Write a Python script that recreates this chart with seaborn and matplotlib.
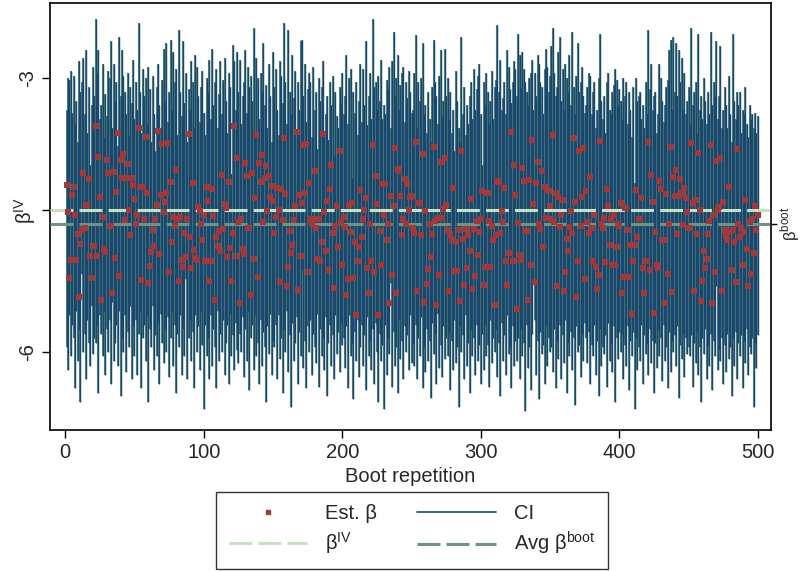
import numpy as np
import pandas as pd
import seaborn as sns
import matplotlib.pyplot as plt
from matplotlib.lines import Line2D

# bootstrap estimates, one per repetition
est_beta = [
    -4.17, -4.47, -5.19, -4.99, -4.28, -4.19, -4.50, -4.99, -4.71, -5.40, -4.82, -4.67, -4.04, -4.64, -4.39, -4.39, -4.11, -4.95, -5.19, -4.84, -4.84, -3.53, -4.95, -3.87, -4.30,
    -5.43, -4.52, -4.87, -4.91, -3.90, -4.04, -4.62, -4.62, -5.35, -4.03, -4.97, -4.25, -3.60, -5.17, -3.90, -4.10, -3.83, -4.56, -4.10, -3.94, -4.45, -4.72, -4.10, -4.17, -4.33,
    -4.60, -4.50, -3.55, -4.19, -5.21, -4.19, -4.54, -3.65, -4.26, -5.25, -5.06, -4.91, -4.66, -4.84, -4.55, -4.39, -3.58, -4.93, -4.28, -3.72, -4.47, -4.36, -4.26, -3.71, -5.13,
    -4.14, -4.80, -4.52, -4.62, -4.01, -4.55, -5.22, -4.52, -4.99, -5.07, -4.70, -4.96, -4.55, -3.61, -4.74, -5.08, -4.15, -4.88, -4.97, -4.99, -4.41, -4.46, -4.60, -4.77, -4.50,
    -5.00, -4.19, -4.35, -5.22, -5.00, -4.22, -4.51, -5.43, -4.74, -4.84, -4.68, -4.90, -4.06, -4.65, -4.38, -4.42, -4.96, -4.14, -4.86, -5.22, -4.70, -3.53, -4.95, -3.88, -4.58,
    -5.46, -4.54, -4.87, -4.93, -3.93, -4.07, -4.64, -4.64, -5.38, -4.04, -4.98, -4.32, -3.62, -5.18, -3.93, -4.14, -3.84, -4.58, -4.10, -3.96, -4.46, -4.07, -4.30, -4.18, -4.35,
    -4.70, -4.52, -4.20, -4.45, -5.23, -4.22, -4.56, -3.66, -4.27, -5.28, -5.07, -4.68, -4.92, -4.83, -4.56, -4.40, -3.59, -5.32, -4.28, -4.95, -4.37, -3.73, -4.26, -3.72, -5.13,
    -4.15, -4.54, -4.60, -4.54, -4.02, -4.64, -4.98, -4.54, -5.00, -4.80, -3.61, -4.47, -4.90, -4.35, -5.10, -4.22, -3.95, -4.70, -5.30, -4.62, -4.40, -4.85, -3.80, -4.58, -5.05,
    -4.52, -4.63, -5.38, -5.20, -4.39, -4.69, -4.37, -5.19, -4.80, -5.60, -5.01, -4.85, -4.23, -4.74, -4.55, -4.45, -4.31, -5.08, -5.35, -4.60, -5.01, -3.73, -5.12, -4.07, -4.38,
    -5.60, -4.68, -5.05, -4.16, -4.50, -4.16, -4.77, -4.60, -5.47, -4.29, -5.16, -4.40, -3.77, -5.35, -4.00, -4.02, -4.29, -4.72, -4.55, -4.11, -4.60, -4.16, -4.45, -4.30, -4.29,
    -4.64, -4.70, -3.70, -5.33, -4.37, -4.37, -4.72, -3.83, -5.45, -4.46, -5.26, -5.09, -4.60, -4.96, -4.71, -3.76, -4.57, -5.49, -4.53, -5.16, -3.92, -4.53, -4.43, -3.88, -4.39,
    -4.67, -5.33, -4.72, -4.78, -4.21, -5.11, -4.80, -5.11, -4.67, -5.44, -3.80, -4.76, -5.27, -4.65, -5.08, -4.72, -4.90, -4.33, -5.31, -4.65, -5.17, -4.57, -4.94, -4.69, -4.55,
    -4.24, -5.27, -5.07, -4.26, -4.26, -4.57, -5.07, -4.62, -4.78, -5.49, -4.72, -4.13, -4.14, -4.70, -4.46, -4.58, -4.20, -5.01, -5.27, -4.92, -4.92, -3.59, -5.01, -3.95, -4.28,
    -5.53, -4.59, -4.94, -4.99, -3.99, -4.13, -4.68, -4.68, -5.43, -4.12, -5.05, -3.68, -4.38, -5.24, -4.15, -3.92, -4.60, -4.65, -4.02, -4.85, -4.19, -4.53, -4.22, -4.24, -4.40,
    -4.55, -3.62, -4.58, -4.26, -5.28, -4.30, -4.63, -4.50, -4.34, -5.33, -5.13, -4.76, -4.89, -4.63, -4.46, -4.70, -3.66, -4.36, -5.40, -5.00, -3.80, -4.62, -4.30, -3.77, -5.20,
    -4.24, -4.58, -4.70, -4.08, -4.64, -5.01, -4.50, -5.07, -5.31, -5.16, -3.69, -4.60, -4.64, -4.53, -5.02, -4.22, -4.40, -4.83, -4.55, -5.05, -4.50, -5.05, -4.85, -4.60, -4.62,
    -4.37, -5.36, -5.18, -4.42, -4.42, -4.67, -5.18, -4.83, -5.58, -5.00, -4.83, -4.23, -4.74, -4.54, -4.54, -4.31, -5.08, -5.35, -5.00, -5.00, -3.70, -5.10, -4.06, -4.36, -5.57,
    -4.69, -5.05, -5.08, -4.13, -4.22, -4.78, -4.78, -5.47, -4.27, -5.15, -4.60, -3.76, -5.34, -4.08, -4.29, -4.01, -4.71, -4.29, -4.11, -4.26, -4.61, -4.20, -4.31, -4.47, -4.64,
    -4.64, -3.71, -4.37, -5.33, -4.34, -4.71, -3.82, -4.45, -5.44, -5.22, -4.89, -5.08, -4.98, -4.71, -4.57, -3.74, -5.46, -4.50, -5.13, -3.91, -4.45, -4.41, -3.88, -5.33, -4.36,
    -4.67, -4.72, -4.77, -4.19, -4.69, -5.10, -4.66, -4.80, -5.23, -3.78, -4.60, -4.74, -4.64, -5.05, -4.69, -4.34, -4.87, -5.28, -4.58, -5.15, -4.55, -4.92, -4.40, -4.67, -4.50,
]

# upper end of each CI
ci_hi = [
    -3.35, -3.00, -3.02, -2.92, -3.38, -2.98, -3.50, -3.25, -3.70, -2.82, -3.15, -3.05, -2.78, -3.40, -2.70, -3.60, -3.10, -3.95, -3.30, -2.88, -3.20, -2.36, -2.95, -2.70, -3.45,
    -3.30, -2.85, -3.65, -3.18, -3.42, -2.92, -3.00, -2.60, -3.55, -2.85, -3.25, -3.05, -3.75, -2.55, -3.20, -2.70, -2.98, -3.15, -3.40, -2.95, -3.62, -3.10, -3.28, -2.80, -3.45,
    -3.05, -3.35, -2.40, -3.15, -3.60, -2.90, -3.20, -3.00, -3.50, -2.88, -3.12, -3.70, -2.98, -3.40, -3.80, -3.10, -2.85, -3.30, -3.55, -3.02, -2.68, -3.25, -2.62, -3.48, -3.15,
    -2.58, -3.35, -2.72, -3.05, -2.90, -3.62, -2.48, -3.15, -3.42, -2.60, -3.28, -2.95, -3.70, -3.12, -3.35, -2.82, -3.05, -3.55, -2.75, -2.88, -3.20, -3.48, -3.10, -2.92, -3.38,
    -3.62, -3.00, -3.15, -2.80, -3.45, -2.68, -3.30, -3.05, -2.90, -3.55, -3.18, -2.82, -3.40, -3.02, -2.78, -3.25, -3.60, -2.95, -3.10, -4.05, -2.64, -2.82, -3.35, -2.72, -3.15,
    -2.80, -3.50, -3.20, -3.05, -2.70, -3.38, -2.88, -3.10, -2.98, -3.25, -2.45, -3.60, -2.78, -3.00, -3.45, -2.95, -3.15, -2.62, -3.30, -3.08, -3.55, -2.85, -3.20, -3.70, -2.72,
    -3.10, -2.90, -3.35, -3.62, -2.82, -2.98, -3.28, -2.40, -3.05, -3.50, -2.48, -3.15, -3.40, -2.75, -3.22, -2.92, -3.60, -3.05, -3.35, -2.60, -2.58, -3.20, -2.85, -3.48, -3.12,
    -2.95, -3.05, -3.65, -2.88, -3.35, -3.15, -3.78, -3.00, -3.25, -3.10, -2.82, -3.58, -3.40, -3.20, -3.68, -3.05, -3.30, -2.98, -3.85, -3.15, -3.42, -3.55, -3.10, -3.28, -2.95,
    -3.40, -3.20, -2.75, -3.50, -3.00, -2.90, -4.10, -3.15, -3.38, -3.05, -3.62, -3.25, -2.85, -3.48, -2.90, -3.30, -2.60, -3.52, -3.20, -2.95, -3.45, -2.35, -3.10, -3.05, -3.35,
    -2.98, -3.25, -2.80, -3.45, -3.30, -3.40, -3.02, -3.12, -2.88, -3.55, -2.82, -2.50, -3.20, -3.00, -2.75, -3.35, -3.08, -2.95, -2.88, -3.48, -3.05, -3.22, -2.92, -3.15, -3.38,
    -3.35, -2.95, -2.53, -3.55, -3.05, -3.25, -3.00, -2.62, -3.40, -3.30, -3.60, -3.15, -3.45, -3.70, -3.10, -2.58, -3.05, -3.20, -3.50, -2.98, -2.70, -3.42, -3.25, -2.68, -3.20,
    -3.00, -3.45, -3.15, -3.60, -3.35, -3.80, -2.92, -3.25, -3.55, -3.70, -2.55, -3.40, -3.10, -3.62, -3.30, -3.50, -3.20, -3.05, -3.45, -2.90, -3.35, -3.12, -2.98, -2.85, -3.40,
    -3.95, -3.05, -3.30, -2.95, -3.15, -3.50, -3.25, -2.92, -3.45, -3.10, -3.02, -2.42, -3.15, -2.80, -3.35, -3.22, -3.05, -3.40, -2.70, -2.88, -3.12, -3.28, -3.05, -2.82, -2.90,
    -3.20, -2.52, -2.75, -3.10, -2.72, -2.90, -3.05, -3.15, -3.30, -3.00, -2.95, -2.80, -3.35, -2.95, -3.20, -2.75, -2.85, -3.05, -3.10, -3.40, -2.90, -2.68, -2.88, -3.15, -2.98,
    -2.65, -2.45, -2.95, -3.20, -3.10, -2.72, -2.55, -3.25, -2.90, -3.35, -2.85, -3.00, -3.15, -2.75, -3.30, -2.50, -3.10, -3.40, -2.98, -2.62, -3.15, -3.05, -2.88, -3.20, -3.38,
    -3.30, -3.10, -2.95, -2.98, -3.40, -3.15, -3.05, -3.55, -3.35, -3.00, -2.52, -3.25, -3.45, -3.20, -3.60, -3.05, -2.95, -3.35, -3.40, -3.15, -3.08, -2.90, -3.02, -3.30, -3.12,
    -3.25, -3.45, -3.00, -3.20, -3.05, -3.50, -3.15, -3.35, -3.65, -3.10, -4.15, -3.00, -3.25, -3.20, -3.15, -3.45, -3.30, -3.55, -3.05, -3.40, -2.48, -3.12, -2.85, -3.35, -3.20,
    -3.15, -3.60, -3.40, -2.85, -3.00, -3.25, -3.48, -3.30, -3.10, -3.02, -2.70, -2.58, -3.35, -2.55, -3.15, -2.62, -3.20, -2.70, -3.05, -2.78, -3.35, -2.95, -3.40, -3.25, -3.10,
    -3.50, -2.45, -3.30, -3.15, -3.05, -3.60, -2.52, -3.35, -3.20, -3.45, -3.00, -3.25, -3.50, -3.15, -3.40, -2.50, -3.30, -3.05, -3.20, -2.60, -3.45, -3.20, -2.65, -3.55, -3.35,
    -3.10, -3.30, -3.55, -2.98, -3.40, -3.70, -2.52, -3.25, -3.45, -3.15, -3.30, -3.15, -3.60, -3.35, -3.40, -3.10, -3.50, -3.65, -3.30, -3.45, -3.40, -3.55, -3.38, -3.60, -3.42,
]

# lower end of each CI
ci_lo = [
    -5.95, -6.20, -5.60, -6.05, -5.70, -5.85, -6.40, -5.55, -6.10, -5.75, -6.55, -5.15, -6.00, -5.80, -6.30, -5.65, -5.90, -6.15, -5.50, -6.02, -5.85, -5.90, -5.70, -6.45, -5.60,
    -5.80, -6.05, -5.55, -6.25, -5.75, -6.00, -5.65, -6.35, -5.45, -6.10, -5.90, -5.70, -6.15, -5.55, -6.48, -5.85, -6.00, -5.60, -6.22, -5.78, -5.95, -5.50, -6.30, -5.72, -6.05,
    -5.65, -6.25, -5.80, -5.55, -6.40, -5.85, -5.70, -6.10, -5.60, -6.55, -5.75, -5.95, -5.50, -6.20, -5.82, -6.05, -5.68, -6.35, -5.58, -5.90, -6.12, -5.75, -6.00, -5.62, -6.28,
    -5.85, -5.55, -6.15, -5.70, -6.45, -5.80, -5.95, -5.60, -6.25, -5.75, -6.05, -5.20, -6.30, -5.85, -5.65, -6.10, -5.78, -6.40, -5.60, -6.00, -5.72, -6.20, -5.55, -5.92, -6.62,
    -5.70, -6.05, -5.85, -6.30, -5.60, -6.15, -5.75, -5.95, -6.40, -5.55, -6.10, -5.80, -6.00, -5.65, -6.25, -5.90, -5.70, -6.35, -5.58, -6.05, -5.82, -6.20, -5.68, -5.98, -6.12,
    -5.80, -6.00, -5.62, -6.28, -5.75, -6.10, -5.55, -6.42, -5.85, -5.70, -6.20, -5.60, -6.05, -5.90, -6.35, -5.65, -6.15, -5.78, -5.95, -6.55, -5.72, -6.02, -5.58, -6.25, -5.88,
    -5.95, -5.70, -6.30, -5.60, -6.08, -5.85, -6.45, -5.75, -6.00, -5.55, -6.22, -5.82, -6.60, -5.68, -6.10, -5.90, -5.62, -6.35, -5.78, -6.05, -5.10, -6.18, -5.88, -6.40, -5.72,
    -6.00, -5.65, -6.25, -5.80, -5.95, -6.12, -5.58, -6.38, -5.75, -6.05, -5.85, -6.20, -5.62, -6.48, -5.90, -5.70, -6.15, -5.82, -6.30, -5.60, -6.02, -5.78, -6.22, -5.68, -5.92,
    -5.85, -6.18, -5.72, -6.40, -5.60, -6.05, -5.90, -6.52, -5.78, -6.10, -5.65, -6.28, -5.95, -5.70, -6.15, -5.82, -6.42, -5.62, -6.05, -5.88, -6.20, -5.75, -6.35, -5.68, -6.00,
    -6.55, -5.80, -6.10, -5.92, -6.62, -5.70, -6.25, -5.85, -6.02, -5.25, -6.38, -5.78, -6.15, -5.95, -6.45, -5.65, -6.08, -5.88, -6.30, -5.72, -6.00, -5.82, -6.20, -5.60, -6.12,
    -5.90, -6.15, -5.70, -6.30, -5.85, -6.05, -5.62, -6.40, -5.95, -6.22, -5.75, -6.10, -5.88, -6.50, -5.68, -6.02, -5.80, -6.35, -5.58, -6.18, -5.92, -6.28, -5.72, -6.08, -5.85,
    -6.05, -5.78, -6.42, -5.88, -6.20, -5.65, -6.12, -5.95, -6.60, -5.72, -6.00, -5.82, -6.30, -5.60, -6.15, -5.90, -6.45, -5.75, -6.05, -5.85, -6.25, -5.70, -6.10, -5.92, -6.35,
    -5.80, -6.20, -5.70, -6.05, -5.92, -6.38, -5.65, -6.12, -5.85, -6.00, -5.75, -6.28, -5.90, -6.48, -5.68, -6.10, -5.82, -6.25, -5.60, -6.02, -5.95, -6.40, -5.72, -6.15, -5.88,
    -6.10, -5.85, -6.30, -5.75, -6.05, -5.90, -6.65, -5.70, -6.18, -5.95, -6.42, -5.80, -5.20, -5.65, -6.25, -5.88, -6.52, -5.78, -6.02, -5.92, -6.35, -5.72, -6.15, -5.85, -6.00,
    -5.95, -6.22, -5.75, -6.40, -5.88, -6.08, -5.70, -6.30, -5.82, -6.12, -5.65, -6.45, -5.90, -6.05, -5.78, -6.20, -5.85, -6.58, -5.72, -6.00, -5.92, -6.28, -5.80, -6.10, -5.68,
    -5.85, -6.12, -5.78, -6.35, -5.92, -6.05, -5.70, -6.25, -5.88, -6.48, -5.75, -6.15, -5.95, -6.02, -5.82, -6.38, -5.68, -6.10, -5.90, -6.22, -5.72, -6.55, -5.85, -6.08, -5.78,
    -6.00, -5.80, -6.30, -5.92, -6.15, -5.72, -6.42, -5.88, -6.05, -5.78, -6.62, -5.85, -6.20, -5.95, -6.10, -5.70, -6.35, -5.82, -6.02, -5.90, -6.25, -5.75, -6.12, -5.88, -6.45,
    -5.90, -6.18, -5.75, -6.05, -5.85, -6.32, -5.70, -6.10, -5.95, -6.40, -5.78, -6.22, -5.88, -6.00, -5.82, -6.15, -5.72, -6.50, -5.92, -6.08, -5.80, -6.28, -5.85, -6.02, -5.95,
    -6.05, -5.82, -6.38, -5.90, -6.12, -5.78, -6.25, -5.95, -6.55, -5.85, -6.02, -5.75, -6.30, -5.92, -6.15, -5.80, -6.42, -5.88, -6.05, -5.28, -6.20, -5.98, -6.10, -5.85, -6.35,
    -5.92, -6.22, -5.80, -6.08, -5.95, -6.48, -5.85, -6.15, -5.78, -6.30, -5.90, -6.05, -5.82, -6.40, -5.88, -6.12, -5.75, -6.25, -5.95, -6.02, -5.85, -6.60, -5.90, -6.18, -5.82,
]

beta_iv = -4.45        # full-sample IV estimate
avg_beta_boot = -4.60  # mean of the bootstrap estimates
x_ticks = [0, 100, 200, 300, 400, 500]

assert len(est_beta) == len(ci_lo) == len(ci_hi) == 500

sns.set_theme(style="white")
plt.rcParams['font.family'] = ['Liberation Sans', 'DejaVu Sans']
plt.rcParams['mathtext.fontset'] = 'custom'
plt.rcParams['mathtext.rm'] = 'Liberation Sans'

navy = '#1a476f'
edge_green = '#58877a'
dot_red = '#a3383b'
iv_green = '#c6e1c2'
boot_green = '#6f9383'
fs = 14.5

df = pd.DataFrame({'rep': np.arange(1, len(est_beta) + 1),
                   'est': est_beta, 'lo': ci_lo, 'hi': ci_hi})

fig = plt.figure(figsize=(8.01, 5.71), dpi=100)
ax = fig.add_axes([50 / 801, 1 - 430 / 571, 721 / 801, 427 / 571])

# CI spikes: a greenish outline under a navy core
ax.vlines(df['rep'], df['lo'], df['hi'], color=edge_green, lw=1.5, zorder=1)
ax.vlines(df['rep'], df['lo'], df['hi'], color=navy, lw=1.0, zorder=2)

dash = (0, (7.5, 2.0))
ax.axhline(beta_iv, color=iv_green, lw=2.2, ls=dash, zorder=3)
ax.axhline(avg_beta_boot, color=boot_green, lw=2.2, ls=dash, zorder=3)

sns.scatterplot(data=df, x='rep', y='est', marker='s', s=14, color=dot_red,
                linewidth=0, ax=ax, zorder=4, legend=False)

ax.set_xlim(-11, 509.5)
ax.set_ylim(-6.855, -2.18)
ax.set_xticks(x_ticks)
ax.set_xticklabels([str(t) for t in x_ticks])
ax.set_yticks([-6, beta_iv, -3])
ax.set_yticklabels(['-6', r'β$^{\mathrm{IV}}$', '-3'], rotation=90, va='center')
ax.tick_params(axis='both', which='major', labelsize=fs, length=6, width=1,
               color='black', bottom=True, left=True, direction='out', pad=3)
ax.set_xlabel('Boot repetition', fontsize=fs, labelpad=4)
ax.set_ylabel('')
for sp in ax.spines.values():
    sp.set_color('black')
    sp.set_linewidth(1.2)

ax2 = ax.twinx()
ax2.set_ylim(ax.get_ylim())
ax2.set_yticks([avg_beta_boot])
ax2.set_yticklabels([r'β$^{\mathrm{boot}}$'], rotation=90, va='center')
ax2.tick_params(axis='y', labelsize=12, length=4.5, width=1, color='black',
                right=True, direction='out', pad=0.5)
for sp in ax2.spines.values():
    sp.set_visible(False)

handles = [
    Line2D([], [], marker='s', ls='none', color=dot_red, markersize=3),
    Line2D([], [], color=iv_green, lw=2.2, ls=dash),
    Line2D([], [], color=navy, lw=1.2),
    Line2D([], [], color=boot_green, lw=2.2, ls=dash),
]
labels = ['Est. β', r'β$^{\mathrm{IV}}$', 'CI', r'Avg β$^{\mathrm{boot}}$']
leg = fig.legend(handles, labels, ncol=2, loc='center',
                 bbox_to_anchor=(412 / 801, 1 - 530.5 / 571), fontsize=fs,
                 frameon=True, fancybox=False, edgecolor='black',
                 handlelength=3.9, handletextpad=0.9, columnspacing=2.0,
                 labelspacing=0.35, borderpad=0.6)
leg.get_frame().set_linewidth(1.0)

fig.savefig('out.png', dpi=100, facecolor='white')
